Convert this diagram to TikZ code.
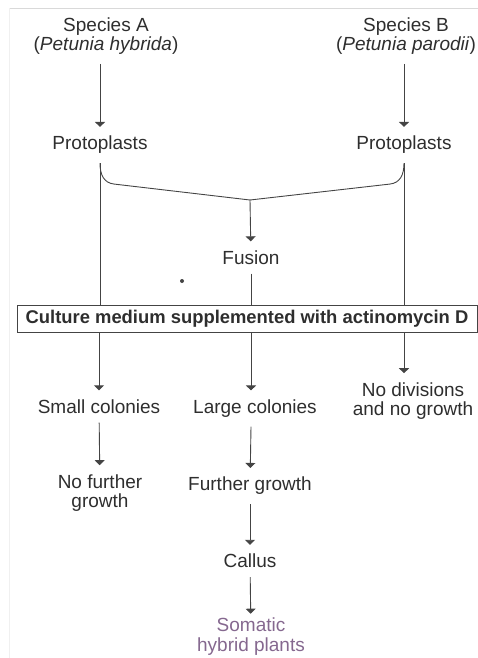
\documentclass[tikz,border=0pt]{standalone}
\usepackage{fontspec}
\setmainfont{Liberation Sans}
\usetikzlibrary{arrows.meta}
\definecolor{inkgray}{HTML}{2E2E2E}
\definecolor{linegray}{HTML}{444444}
\definecolor{plantpurple}{HTML}{85688F}
\begin{document}
\begin{tikzpicture}[x=1pt,y=-1pt,
  every node/.style={font=\fontsize{19}{19.5}\selectfont,text=inkgray,align=center,inner sep=9pt},
  flow/.style={-{Triangle[width=10pt,length=5pt]},linegray,line width=0.9pt},
  link/.style={linegray,line width=0.9pt}]
\useasboundingbox (0,0) rectangle (478,658);
% screenshot edges
\draw[black!15] (9,8) -- (478,8);
\draw[black!6] (9,8) -- (9,658);
% parent species and their protoplasts
\node (spA) at (106,36) {Species A\\(\textit{Petunia hybrida})};
\node (spB) at (406,36) {Species B\\(\textit{Petunia parodii})};
\node (protoA) at (100,145) {Protoplasts};
\node (protoB) at (404,145) {Protoplasts};
\draw[flow] (protoA |- spA.south) -- (protoA);
\draw[flow] (protoB |- spB.south) -- (protoB);
% fusion
\coordinate (join) at (250,200);
\node (fusion) at (251,257.5) {Fusion};
\draw[link] (protoA.south) .. controls +(0,12) and +(-10,-1.2) .. ++(14,21) -- (join);
\draw[link] (protoB.south) .. controls +(0,12) and +(10,-1.2) .. ++(-14,21) -- (join);
\draw[flow] (join) -- (fusion);
\fill[linegray] (182,281) circle (2pt);
% selection medium
\node[draw=linegray,line width=0.9pt,minimum width=460pt,minimum height=27pt,inner sep=2pt,
  font=\fontsize{18.4}{18}\selectfont\bfseries] (medium) at (247,318.5)
  {Culture medium supplemented with actinomycin D};
\draw[link] (protoA.south) -- (protoA.south |- medium.north);
\draw[link] (protoB.south) -- (protoB.south |- medium.north);
\draw[link] (fusion) -- (fusion |- medium.north);
% outcomes
\node (smallc) at (99,406.5) {Small colonies};
\node (largec) at (255,408.5) {Large colonies};
\node (nodiv) at (413,401) {No divisions\\and no growth};
\draw[flow] (medium.south -| smallc) -- (smallc);
\draw[flow] (fusion |- medium.south) -- (fusion |- largec.north);
\draw[flow] (protoB |- medium.south) -- (protoB |- nodiv.north);
\node (nofurther) at (100,493) {No further\\growth};
\node (furtherg) at (250,486) {Further growth};
\node (callus) at (250,561) {Callus};
\node[text=plantpurple,inner sep=4pt] (hybrid) at (251,636.5) {Somatic\\hybrid plants};
\draw[flow] (smallc) -- (nofurther);
\draw[flow] (fusion |- largec.south) -- (furtherg);
\draw[flow] (furtherg) -- (callus);
\draw[flow] (callus) -- (hybrid);
\end{tikzpicture}
\end{document}
